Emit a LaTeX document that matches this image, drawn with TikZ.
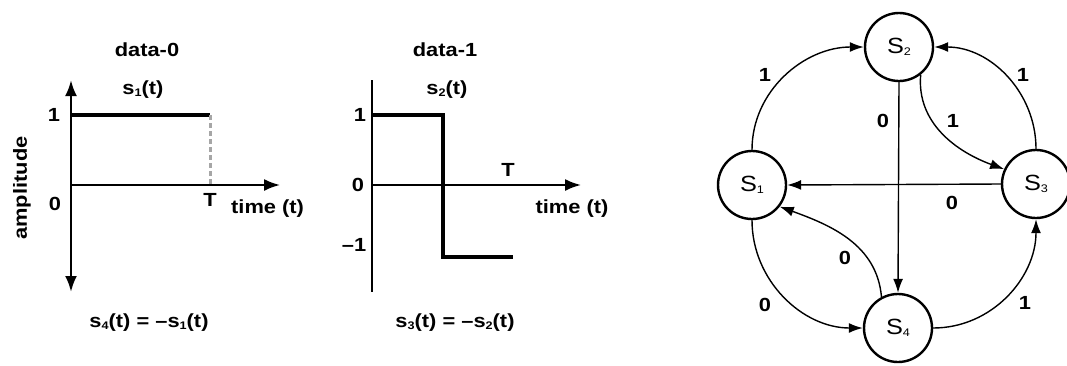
\documentclass[tikz,border=0pt]{standalone}
\usepackage{fontspec}
\setmainfont[FakeStretch=1.15]{Liberation Sans}
\usetikzlibrary{arrows.meta}
\newcommand{\lowsub}[1]{\raisebox{-1.8pt}{\fontsize{11}{11}\selectfont #1}}
\begin{document}
\begin{tikzpicture}[x=1pt,y=-1pt,
  txt/.style={inner sep=0pt,font=\fontsize{19}{19}\selectfont\bfseries},
  state/.style={circle,draw,line width=2.4pt,minimum size=68pt,inner sep=0pt,font=\fontsize{22}{22}\selectfont},
  edge/.style={line width=1.4pt,-{Latex[length=14pt,width=10pt]}},
  lbl/.style={inner sep=0pt,font=\fontsize{19}{19}\selectfont\bfseries},
  axis/.style={line width=2pt},
  sig/.style={line width=4pt}]
\useasboundingbox (0,0) rectangle (1067,365);
% ---------- left plot ----------
\coordinate (Ltop) at (71,80);
\coordinate (Lbot) at (71,292);
\coordinate (Lo) at (71,185);
\coordinate (Lx) at (280,185);
\coordinate (La) at (71,115);
\coordinate (Lb) at (210,115);
\coordinate (Lc) at (210,185);
\draw[axis,line width=2.6pt,{Latex[length=16pt,width=12pt]}-{Latex[length=16pt,width=12pt]}] (Ltop) -- (Lbot);
\draw[axis,-{Latex[length=16pt,width=12pt]}] (Lo) -- (Lx);
\draw[sig] (La) -- (Lb);
\draw[line width=3pt,gray!70,dash pattern=on 5pt off 3pt] (Lb) -- (Lc);
\node[txt] (ld) at (147,50) {data-0};
\node[txt] (ls) at (143,90) {s\lowsub{1}(t)};
\node[txt] (l1) at (54,115) {1};
\node[txt] (l0) at (55,204) {0};
\node[txt] (lT) at (210,200) {T};
\node[txt,anchor=west] (lt) at (231,209) {time (t)};
\node[txt,rotate=90] (lam) at (22,188) {amplitude};
\node[txt] (lf) at (149,323) {s\lowsub{4}(t) = –s\lowsub{1}(t)};
% ---------- middle plot ----------
\coordinate (Mtop) at (372,80);
\coordinate (Mbot) at (372,292);
\coordinate (Mo) at (372,185);
\coordinate (Mx) at (581,185);
\draw[line width=1.6pt] (Mtop) -- (Mbot);
\draw[axis,-{Latex[length=16pt,width=12pt]}] (Mo) -- (Mx);
\draw[sig] (372,115) -- (443,115) -- (443,257) -- (513,257);
\node[txt] (md) at (445,50) {data-1};
\node[txt] (ms) at (447,90) {s\lowsub{2}(t)};
\node[txt] (m1) at (360,115) {1};
\node[txt] (m0) at (358,185) {0};
\node[txt] (mm) at (354,245) {–1};
\node[txt] (mT) at (508,170) {T};
\node[txt] (mt) at (572,209) {time (t)};
\node[txt] (mf) at (455,323) {s\lowsub{3}(t) = –s\lowsub{2}(t)};
% ---------- state graph ----------
\node[state] (s1) at (752,185) {S\lowsub{1}};
\node[state] (s2) at (899,47) {S\lowsub{2}};
\node[state] (s3) at (1036,184) {S\lowsub{3}};
\node[state] (s4) at (898,328) {S\lowsub{4}};
\draw[edge] (s1.north) to[out=90,in=180] (s2.west);
\draw[edge] (s3.north) to[out=90,in=0] (s2.east);
\draw[edge] (s2.-52) to[out=-95,in=160] (s3.155);
\draw[edge] (s2.south) -- (s4.north);
\draw[edge] (s3.west) -- (s1.east);
\draw[edge] (s4.118) to[out=95,in=-20] (s1.-38);
\draw[edge] (s1.south) to[out=-90,in=180] (s4.west);
\draw[edge] (s4.east) to[out=0,in=-90] (s3.south);
\node[lbl] (e1) at (765,75) {1};
\node[lbl] (e2) at (1023,75) {1};
\node[lbl] (e3) at (953,121) {1};
\node[lbl] (e4) at (883,121) {0};
\node[lbl] (e5) at (952,203) {0};
\node[lbl] (e6) at (845,258) {0};
\node[lbl] (e7) at (765,305) {0};
\node[lbl] (e8) at (1025,303) {1};
\end{tikzpicture}
\end{document}
